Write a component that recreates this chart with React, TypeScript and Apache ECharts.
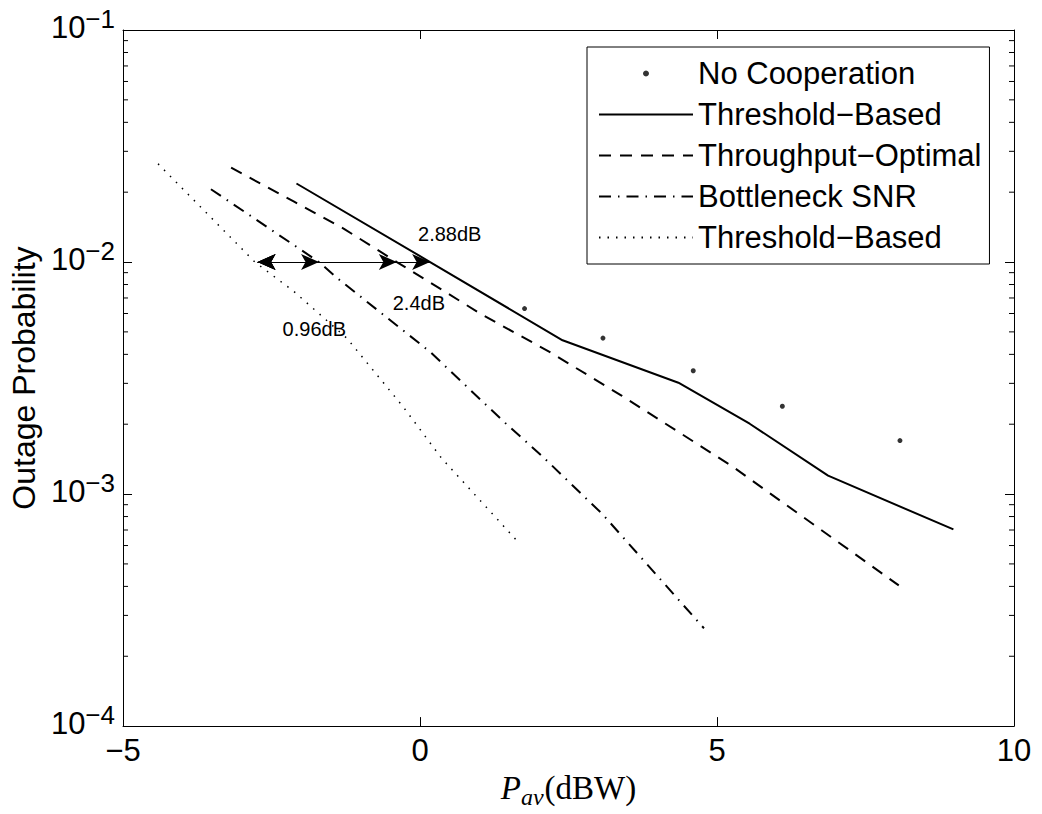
import React, { useEffect, useRef } from "react";
import * as echarts from "echarts";

// ---------- data ----------
const noCoopX = [1.76, 3.08, 4.6, 6.1, 8.08];
const noCoopY = [0.0063, 0.0047, 0.0034, 0.00239, 0.0017];

const thresholdX = [-2.08, 0.17, 2.4, 4.35, 5.55, 6.87, 8.98];
const thresholdY = [0.0218, 0.01, 0.0046, 0.00302, 0.00201, 0.0012, 0.000704];

const throughputX = [-3.18, -2.12, -1.28, -0.39, 1.06, 2.18, 3.4, 5.25, 8.06];
const throughputY = [0.0255, 0.0182, 0.0139, 0.01, 0.0059, 0.0041, 0.00265, 0.00132, 0.000404];

const bottleneckX = [-3.52, -1.7, -1.4, 0.17, 1.42, 2.04, 3.07, 4.78];
const bottleneckY = [0.0206, 0.01, 0.00855, 0.0041, 0.00204, 0.00147, 0.00082, 0.000264];

const threshold2X = [-4.41, -2.78, -2.12, -1.23, -0.28, 0.36, 1.675];
const threshold2Y = [0.0265, 0.01, 0.00746, 0.00469, 0.00237, 0.00143, 0.000612];

const seriesNames = [
  "No Cooperation",
  "Threshold\u2212Based",
  "Throughput\u2212Optimal",
  "Bottleneck SNR",
  "Threshold\u2212Based ",
];

const annotationTexts = ["2.88dB", "2.4dB", "0.96dB"];
const annotationX = [0.5, -0.02, -1.78];
const annotationY = [0.01324, 0.00668, 0.00513];

const arrowStartX = -2.735;
const arrowEndX = [-1.7, -0.39, 0.17];
const arrowLevel = 0.01;

const xMin = -5;
const xMax = 10;
const xInterval = 5;
const yMin = 0.0001;
const yMax = 0.1;
const minorTickValues = [
  2e-4, 3e-4, 4e-4, 5e-4, 6e-4, 7e-4, 8e-4, 9e-4,
  2e-3, 3e-3, 4e-3, 5e-3, 6e-3, 7e-3, 8e-3, 9e-3,
  2e-2, 3e-2, 4e-2, 5e-2, 6e-2, 7e-2, 8e-2, 9e-2,
];

const SANS = "'Liberation Sans', Arial, Helvetica, sans-serif";
const SERIF = "'Liberation Serif', 'Times New Roman', serif";

const zip = (xs: number[], ys: number[]) => xs.map((x, i) => [x, ys[i]]);

export default function App() {
  const ref = useRef<HTMLDivElement>(null);

  useEffect(() => {
    if (!ref.current) return;
    const chart = echarts.init(ref.current, undefined, { renderer: "svg" });

    const yLabelFmt = (v: number) => {
      const e = Math.round(Math.log10(v));
      const s = e < 0 ? "\u2212" + String(-e) : String(e);
      return "{b|10}{s|" + s + "}";
    };
    const xLabelFmt = (v: number) => String(v).replace("-", "\u2212");

    const baseX = {
      type: "value",
      min: xMin,
      max: xMax,
      interval: xInterval,
      splitLine: { show: false },
      axisLine: { onZero: false, lineStyle: { color: "#000", width: 1 } },
      axisTick: { inside: true, length: 9, lineStyle: { color: "#000" } },
    };
    const baseY = {
      type: "log",
      logBase: 10,
      min: yMin,
      max: yMax,
      splitLine: { show: false },
      axisLine: { onZero: false, lineStyle: { color: "#000", width: 1 } },
      axisTick: { inside: true, length: 9, lineStyle: { color: "#000" } },
    };

    const option: any = {
      animation: false,
      backgroundColor: "#fff",
      grid: { left: 118, top: 30, right: 28, bottom: 77, containLabel: false },
      xAxis: [
        {
          ...baseX,
          position: "bottom",
          axisLabel: {
            formatter: xLabelFmt,
            fontSize: 31,
            fontFamily: SANS,
            color: "#000",
            margin: 9,
          },
          name: "{i|P}{sub|av}{r|(dBW)}",
          nameLocation: "middle",
          nameGap: 40,
          nameTextStyle: {
            rich: {
              i: { fontSize: 33, lineHeight: 32, fontFamily: SERIF, fontStyle: "italic", color: "#000", verticalAlign: "top" },
              sub: { fontSize: 24, lineHeight: 23, fontFamily: SERIF, fontStyle: "italic", color: "#000", verticalAlign: "top", padding: [14, 1, 0, 0] },
              r: { fontSize: 33, lineHeight: 32, fontFamily: SERIF, color: "#000", verticalAlign: "top" },
            },
          },
        },
        {
          ...baseX,
          position: "top",
          axisLabel: { show: false },
        },
      ],
      yAxis: [
        {
          ...baseY,
          position: "left",
          axisLabel: {
            formatter: yLabelFmt,
            margin: 8,
            padding: [0, 0, 5, 0],
            rich: {
              b: { fontSize: 31, lineHeight: 30, fontFamily: SANS, color: "#000", verticalAlign: "bottom" },
              s: { fontSize: 26, lineHeight: 26, fontFamily: SANS, color: "#000", verticalAlign: "bottom", padding: [0, 0, 11, 0] },
            },
          },
          name: "Outage Probability",
          nameLocation: "middle",
          nameGap: 68,
          nameTextStyle: { fontSize: 32, fontFamily: SANS, color: "#000" },
        },
        {
          ...baseY,
          position: "right",
          axisLabel: { show: false },
        },
      ],
      legend: {
        orient: "vertical",
        left: 587,
        top: 47,
        itemWidth: 94,
        itemHeight: 6,
        itemGap: 10,
        padding: [11, 8, 11, 11],
        borderColor: "#000",
        borderWidth: 1,
        borderRadius: 0,
        backgroundColor: "#fff",
        selectedMode: false,
        formatter: (n: string) => n.trim(),
        textStyle: { fontSize: 31, lineHeight: 30, color: "#000", fontFamily: SANS },
        data: [
          { name: seriesNames[0], icon: "circle", itemStyle: { color: "#000" } },
          { name: seriesNames[1], itemStyle: { opacity: 0 } },
          { name: seriesNames[2], itemStyle: { opacity: 0 } },
          { name: seriesNames[3], itemStyle: { opacity: 0 } },
          { name: seriesNames[4], itemStyle: { opacity: 0 } },
        ],
      },
      series: [
        {
          name: seriesNames[0],
          type: "scatter",
          data: zip(noCoopX, noCoopY),
          symbol: "circle",
          symbolSize: 5,
          itemStyle: { color: "#000" },
          silent: true,
        },
        {
          name: seriesNames[1],
          type: "line",
          data: zip(thresholdX, thresholdY),
          showSymbol: false,
          symbol: "none",
          lineStyle: { color: "#000", width: 2, type: "solid" },
          itemStyle: { color: "#000" },
          silent: true,
          markLine: {
            silent: true,
            animation: false,
            symbol: ["arrow", "arrow"],
            symbolSize: [12, 18],
            label: { show: false },
            emphasis: { disabled: true },
            lineStyle: { color: "#000", width: 1, type: "solid" },
            data: arrowEndX.map((x) => [
              { coord: [arrowStartX, arrowLevel], symbol: "arrow" },
              { coord: [x, arrowLevel], symbol: "arrow" },
            ]),
          },
          markPoint: {
            silent: true,
            animation: false,
            symbol: "circle",
            symbolSize: 0,
            itemStyle: { color: "rgba(0,0,0,0)" },
            label: {
              show: true,
              position: "inside",
              color: "#000",
              fontSize: 20,
              fontFamily: SANS,
              formatter: (p: any) => p.name,
            },
            data: annotationTexts.map((t, i) => ({ name: t, coord: [annotationX[i], annotationY[i]] })),
          },
        },
        {
          name: seriesNames[2],
          type: "line",
          data: zip(throughputX, throughputY),
          showSymbol: false,
          symbol: "none",
          lineStyle: { color: "#000", width: 2, type: [12, 9] },
          itemStyle: { color: "#000" },
          silent: true,
        },
        {
          name: seriesNames[3],
          type: "line",
          data: zip(bottleneckX, bottleneckY),
          showSymbol: false,
          symbol: "none",
          lineStyle: { color: "#000", width: 2, type: [12, 7, 1.5, 7] },
          itemStyle: { color: "#000" },
          silent: true,
        },
        {
          name: seriesNames[4],
          type: "line",
          data: zip(threshold2X, threshold2Y),
          showSymbol: false,
          symbol: "none",
          lineStyle: { color: "#000", width: 1.5, type: [1.5, 7] },
          itemStyle: { color: "#000" },
          silent: true,
        },
        {
          name: "minorTicks",
          type: "custom",
          silent: true,
          data: minorTickValues.map((v) => [xMin, v]),
          renderItem: (params: any, api: any) => {
            const y = api.coord([api.value(0), api.value(1)])[1];
            const cs = params.coordSys;
            return {
              type: "group",
              children: [
                { type: "line", shape: { x1: cs.x, y1: y, x2: cs.x + 5, y2: y }, style: { stroke: "#000", lineWidth: 1 } },
                { type: "line", shape: { x1: cs.x + cs.width - 5, y1: y, x2: cs.x + cs.width, y2: y }, style: { stroke: "#000", lineWidth: 1 } },
              ],
            };
          },
        },
      ],
    };

    chart.setOption(option);
    return () => chart.dispose();
  }, []);

  return (
    <div
      ref={ref}
      style={{ position: "absolute", left: 0, top: 0, width: 1042, height: 814, background: "#fff" }}
    />
  );
}
